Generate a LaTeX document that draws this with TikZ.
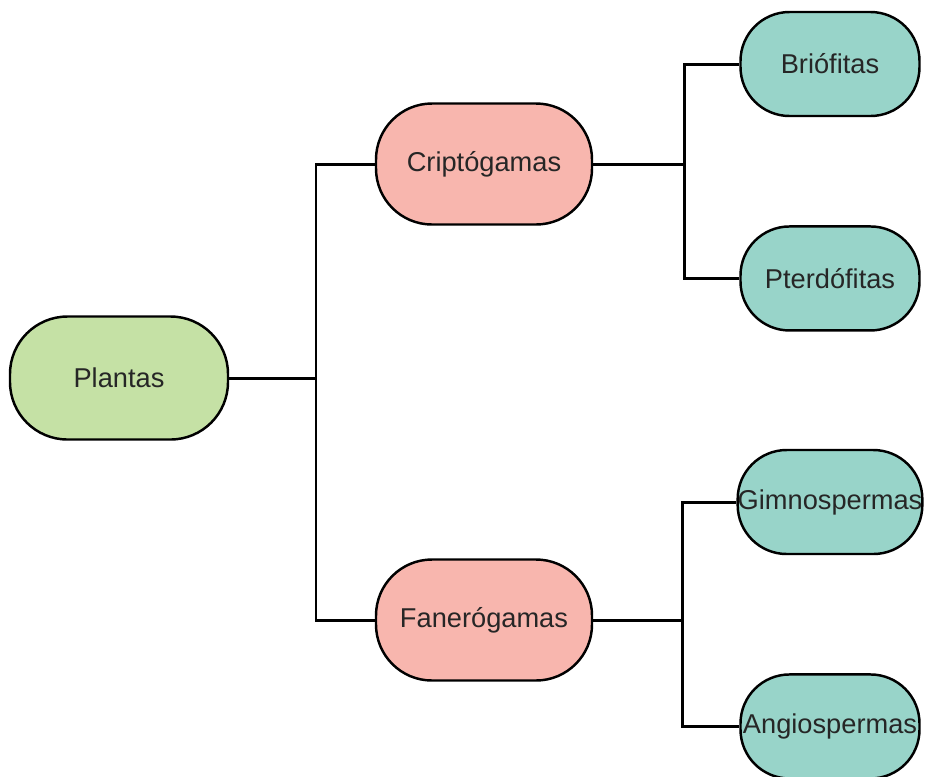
\documentclass[tikz,border=0pt]{standalone}
\usepackage{fontspec}
\setmainfont{Liberation Sans}
\usetikzlibrary{positioning}

\definecolor{verde}{HTML}{C5E1A5}
\definecolor{salmon}{HTML}{F8B6AE}
\definecolor{turquesa}{HTML}{98D4C9}

\tikzset{
  caixa/.style={draw,line width=1.4pt,inner sep=0pt,font=\fontsize{15.5}{18}\selectfont,text=black!85},
  raiz/.style={caixa,fill=verde,minimum width=4.36cm,minimum height=2.46cm,rounded corners=1.15cm},
  grupo/.style={caixa,fill=salmon,minimum width=4.32cm,minimum height=2.42cm,rounded corners=1.12cm},
  folha/.style={caixa,fill=turquesa,minimum width=3.58cm,minimum height=2.08cm,rounded corners=0.98cm},
  liga/.style={line width=1.7pt}
}

\begin{document}
\begin{tikzpicture}
\useasboundingbox (0,0) rectangle (18.54,-15.52);

\node[raiz]   (plantas)  at (2.38,-7.56)   {Plantas};
 \node[grupo]  (cripto)   at (9.68,-3.28)   {Criptógamas};
 \node[grupo]  (fanero)   at (9.68,-12.4)   {Fanerógamas};
	\node[folha]  (brio)     at (16.6,-1.28)  {Briófitas};
	\node[folha]  (pter)     [below=2.16cm of brio]  {Pterdófitas};
	\node[folha]  (gimno)    at (16.6,-10.04) {Gimnospermas};
	\node[folha]  (angio)    [below=2.36cm of gimno] {Angiospermas};

% pontos de ramificacao
\coordinate (j1) at (6.32,-7.56);
\coordinate (j2) at (13.68,-3.28);
\coordinate (j3) at (13.64,-12.4);

\draw[liga] (plantas) -- (j1);
\draw[liga] (j1) |- (cripto);
\draw[liga] (j1) |- (fanero);

\draw[liga] (cripto) -- (j2);
\draw[liga] (j2) |- (brio);
\draw[liga] (j2) |- (pter);

\draw[liga] (fanero) -- (j3);
\draw[liga] (j3) |- (gimno);
\draw[liga] (j3) |- (angio);

\end{tikzpicture}
\end{document}
